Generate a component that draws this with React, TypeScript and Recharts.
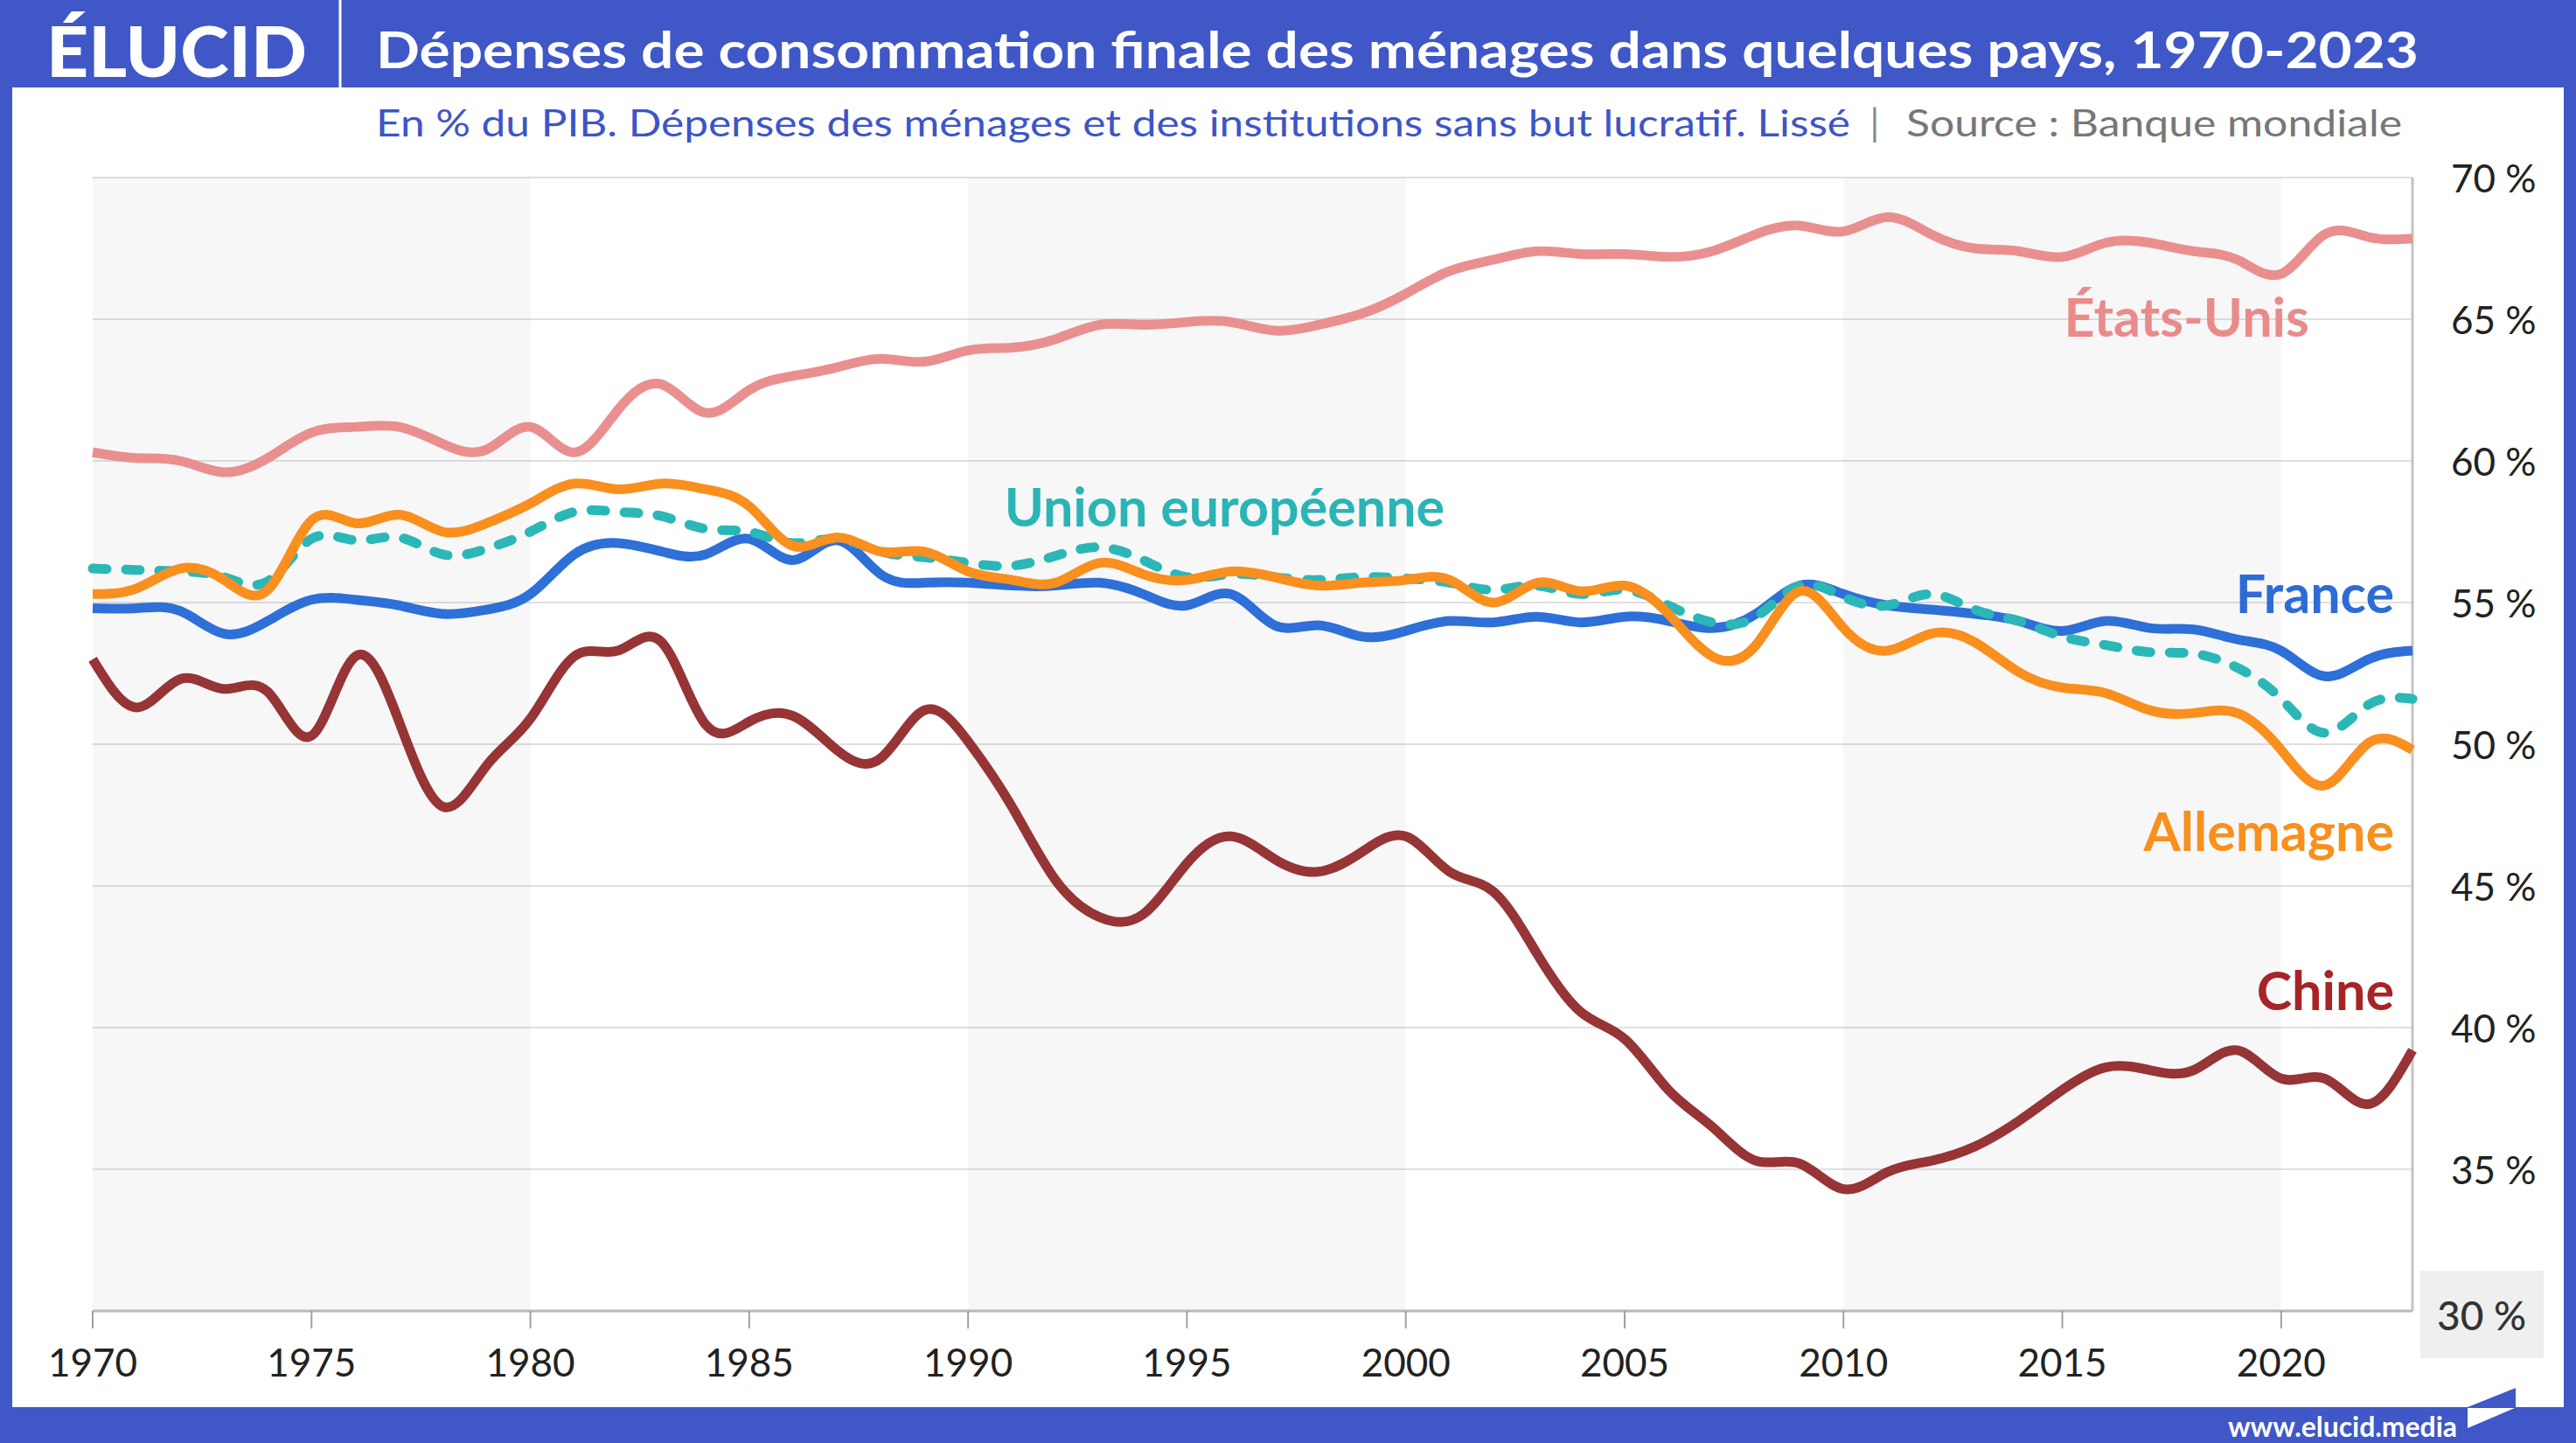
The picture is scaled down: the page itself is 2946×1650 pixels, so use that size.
import React from 'react';
import {
  LineChart, Line, XAxis, YAxis, CartesianGrid, ReferenceArea, ReferenceLine, ReferenceDot,
} from 'recharts';

const years = [
  1970, 1971, 1972, 1973, 1974, 1975, 1976, 1977, 1978, 1979,
  1980, 1981, 1982, 1983, 1984, 1985, 1986, 1987, 1988, 1989,
  1990, 1991, 1992, 1993, 1994, 1995, 1996, 1997, 1998, 1999,
  2000, 2001, 2002, 2003, 2004, 2005, 2006, 2007, 2008, 2009,
  2010, 2011, 2012, 2013, 2014, 2015, 2016, 2017, 2018, 2019,
  2020, 2021, 2022, 2023,
];

const etatsUnis = [
  60.3, 60.1, 60.0, 59.6, 60.1, 61.0, 61.2, 61.2, 60.6, 60.4,
  61.2, 60.3, 61.8, 62.7, 61.7, 62.5, 63.0, 63.3, 63.6, 63.5,
  63.9, 64.0, 64.3, 64.8, 64.8, 64.9, 64.9, 64.6, 64.8, 65.2,
  65.9, 66.7, 67.1, 67.4, 67.3, 67.3, 67.2, 67.4, 68.0, 68.3,
  68.1, 68.6, 68.0, 67.5, 67.4, 67.2, 67.7, 67.7, 67.4, 67.1,
  66.6, 68.0, 67.9, 67.85,
];

const france = [
  54.8, 54.8, 54.7, 53.9, 54.35, 55.1, 55.1, 54.9, 54.6, 54.75,
  55.3, 56.7, 57.1, 56.8, 56.7, 57.25, 56.5, 57.2, 56.0, 55.7,
  55.7, 55.6, 55.6, 55.7, 55.3, 54.9, 55.3, 54.2, 54.2, 53.8,
  54.0, 54.35, 54.3, 54.5, 54.3, 54.5, 54.35, 54.1, 54.6, 55.6,
  55.3, 54.9, 54.75, 54.6, 54.35, 54.0, 54.35, 54.1, 54.05, 53.7,
  53.3, 52.4, 53.0, 53.3,
];

const allemagne = [
  55.3, 55.5, 56.2, 55.8, 55.45, 57.9, 57.8, 58.1, 57.5, 57.8,
  58.5, 59.2, 59.0, 59.2, 59.0, 58.4, 57.0, 57.3, 56.8, 56.8,
  56.1, 55.8, 55.7, 56.4, 56.0, 55.8, 56.1, 55.9, 55.6, 55.7,
  55.8, 55.8, 55.0, 55.7, 55.4, 55.6, 54.6, 53.1, 53.5, 55.4,
  54.1, 53.3, 53.9, 53.6, 52.55, 52.0, 51.8, 51.2, 51.1, 51.1,
  49.8, 48.55, 50.05, 49.8,
];

const unionEuropeenne = [
  56.2, 56.15, 56.1, 55.9, 55.75, 57.25, 57.2, 57.3, 56.7, 56.9,
  57.5, 58.2, 58.2, 58.05, 57.6, 57.5, 57.1, 57.25, 56.8, 56.6,
  56.4, 56.3, 56.65, 56.95, 56.5, 55.9, 56.0, 55.9, 55.8, 55.9,
  55.85, 55.7, 55.45, 55.6, 55.3, 55.45, 54.9, 54.3, 54.5, 55.6,
  55.2, 54.9, 55.3, 54.75, 54.35, 53.8, 53.5, 53.25, 53.2, 52.7,
  51.6, 50.4, 51.4, 51.6,
];

const chine = [
  53.0, 51.3, 52.3, 51.95, 51.85, 50.3, 53.1, 50.8, 47.8, 49.25,
  50.9, 53.1, 53.3, 53.6, 50.7, 50.8, 51.0, 49.8, 49.5, 51.2,
  50.1, 47.8, 45.2, 43.9, 44.0, 45.8, 46.75, 45.95, 45.5, 46.2,
  46.75, 45.5, 44.8, 42.6, 40.55, 39.6, 37.8, 36.5, 35.3, 35.2,
  34.3, 34.9, 35.3, 35.8, 36.7, 37.8, 38.6, 38.5, 38.5, 39.2,
  38.2, 38.2, 37.3, 39.2,
];

const xTicks = [1970, 1975, 1980, 1985, 1990, 1995, 2000, 2005, 2010, 2015, 2020];
const yTicks = [30, 35, 40, 45, 50, 55, 60, 65, 70];
const shadedDecades = [[1970, 1980], [1990, 2000], [2010, 2020]];

const data = years.map((year, i) => ({
  year,
  usa: etatsUnis[i],
  fr: france[i],
  de: allemagne[i],
  ue: unionEuropeenne[i],
  cn: chine[i],
}));

const BLUE = '#3f57c7';
const FONT = 'Lato, "Open Sans", sans-serif';
const CURVE = 'natural';

const YTick = (props: any) => {
  const { x, y, payload } = props;
  const v = payload.value;
  if (v === 30) {
    return (
      <g>
        <rect x={x + 9} y={y - 46} width={141} height={100} fill="#efefef" />
        <text x={x + 79} y={y + 4} textAnchor="middle" dominantBaseline="central"
          fontSize={46} fontFamily={FONT} fill="#333" fontWeight={500}>30 %</text>
      </g>
    );
  }
  return (
    <text x={x + 44} y={y} textAnchor="start" dominantBaseline="central"
      fontSize={44} fontFamily={FONT} fill="#222">{`${v} %`}</text>
  );
};

const makeLabel = (text: string, color: string, anchor: string) => (props: any) => {
  const vb = props.viewBox || {};
  return (
    <text x={vb.x} y={vb.y} textAnchor={anchor} dominantBaseline="central"
      fontSize={61} fontWeight={700} fontFamily={FONT} fill={color}>{text}</text>
  );
};

export default function App() {
  return (
    <div style={{ position: 'absolute', left: 0, top: 0, width: 2946, height: 1650, background: BLUE, overflow: 'hidden' }}>
      <div style={{ position: 'absolute', left: 14, top: 100, width: 2918, height: 1509, background: '#fff' }} />
      <div style={{ position: 'absolute', left: 0, top: 0 }}>
        <LineChart width={2946} height={1650} data={data}
          margin={{ top: 203, left: 106, right: 37, bottom: 51 }}>
          <CartesianGrid vertical={false} stroke="#e0e0e0" strokeWidth={2} />
          {shadedDecades.map(([a, b]) => (
            <ReferenceArea key={a} x1={a} x2={b} y1={30} y2={70}
              fill="#000" fillOpacity={0.03} stroke="none" />
          ))}
          <XAxis dataKey="year" type="number" domain={[1970, 2023]} ticks={xTicks}
            allowDecimals={false} height={100}
            axisLine={{ stroke: '#b8b8b8', strokeWidth: 3 }}
            tickLine={{ stroke: '#a0a0a0', strokeWidth: 2 }}
            tickSize={20} tickMargin={24}
            tick={{ fontSize: 44, fill: '#222', fontFamily: FONT }} />
          <YAxis orientation="right" type="number" domain={[30, 70]} ticks={yTicks}
            width={150} axisLine={false} tickLine={false} tickSize={0} tickMargin={0}
            tick={<YTick />} interval={0} />
          <ReferenceLine x={2023} stroke="#c4c4c4" strokeWidth={3} />
          <Line dataKey="usa" type={CURVE} stroke="#ea8f8f" strokeWidth={11} dot={false} isAnimationActive={false} />
          <Line dataKey="cn" type={CURVE} stroke="#963436" strokeWidth={11} dot={false} isAnimationActive={false} />
          <Line dataKey="fr" type={CURVE} stroke="#2e6fd8" strokeWidth={11} dot={false} isAnimationActive={false} />
          <Line dataKey="ue" type={CURVE} stroke="#2bb7b7" strokeWidth={11} strokeDasharray="16 22"
            strokeLinecap="round" dot={false} isAnimationActive={false} />
          <Line dataKey="de" type={CURVE} stroke="#f98f1e" strokeWidth={11} dot={false} isAnimationActive={false} />
          <ReferenceDot x={2020.64} y={65.1} r={0} fill="none" stroke="none"
            label={makeLabel('États-Unis', '#e98b8b', 'end')} />
          <ReferenceDot x={1990.83} y={58.4} r={0} fill="none" stroke="none"
            label={makeLabel('Union européenne', '#2bb4b6', 'start')} />
          <ReferenceDot x={2022.58} y={55.35} r={0} fill="none" stroke="none"
            label={makeLabel('France', '#2e6cd5', 'end')} />
          <ReferenceDot x={2022.58} y={46.95} r={0} fill="none" stroke="none"
            label={makeLabel('Allemagne', '#f8901e', 'end')} />
          <ReferenceDot x={2022.58} y={41.35} r={0} fill="none" stroke="none"
            label={makeLabel('Chine', '#a62426', 'end')} />
        </LineChart>
      </div>
      <svg width={2946} height={1650} style={{ position: 'absolute', left: 0, top: 0, pointerEvents: 'none' }}>
        <text x={53} y={57} dominantBaseline="central" fontSize={80} fontWeight={900}
          fontFamily={FONT} fill="#fff" textLength={298} lengthAdjust="spacingAndGlyphs">ÉLUCID</text>
        <line x1={389} y1={0} x2={389} y2={100} stroke="#fff" strokeWidth={3} />
        <text x={430} y={55} dominantBaseline="central" fontSize={58} fontWeight={700}
          fontFamily={FONT} fill="#fff" textLength={2336} lengthAdjust="spacingAndGlyphs">
          Dépenses de consommation finale des ménages dans quelques pays, 1970-2023
        </text>
        <text x={430} y={139} dominantBaseline="central" fontSize={43}
          fontFamily={FONT} fill="#3d55c6" textLength={1686} lengthAdjust="spacingAndGlyphs">
          En % du PIB. Dépenses des ménages et des institutions sans but lucratif. Lissé
        </text>
        <text x={2144} y={139} dominantBaseline="central" fontSize={43} textAnchor="middle"
          fontFamily={FONT} fill="#888">|</text>
        <text x={2180} y={139} dominantBaseline="central" fontSize={43}
          fontFamily={FONT} fill="#777" textLength={567} lengthAdjust="spacingAndGlyphs">
          Source : Banque mondiale
        </text>
        <text x={2810} y={1630} dominantBaseline="central" textAnchor="end" fontSize={32} fontWeight={700}
          fontFamily={FONT} fill="#fff" textLength={262} lengthAdjust="spacingAndGlyphs">www.elucid.media</text>
        <polygon points="2822,1609 2877,1587 2877,1609" fill={BLUE} />
        <polygon points="2822,1610 2876,1610 2822,1633" fill="#fff" />
      </svg>
    </div>
  );
}
